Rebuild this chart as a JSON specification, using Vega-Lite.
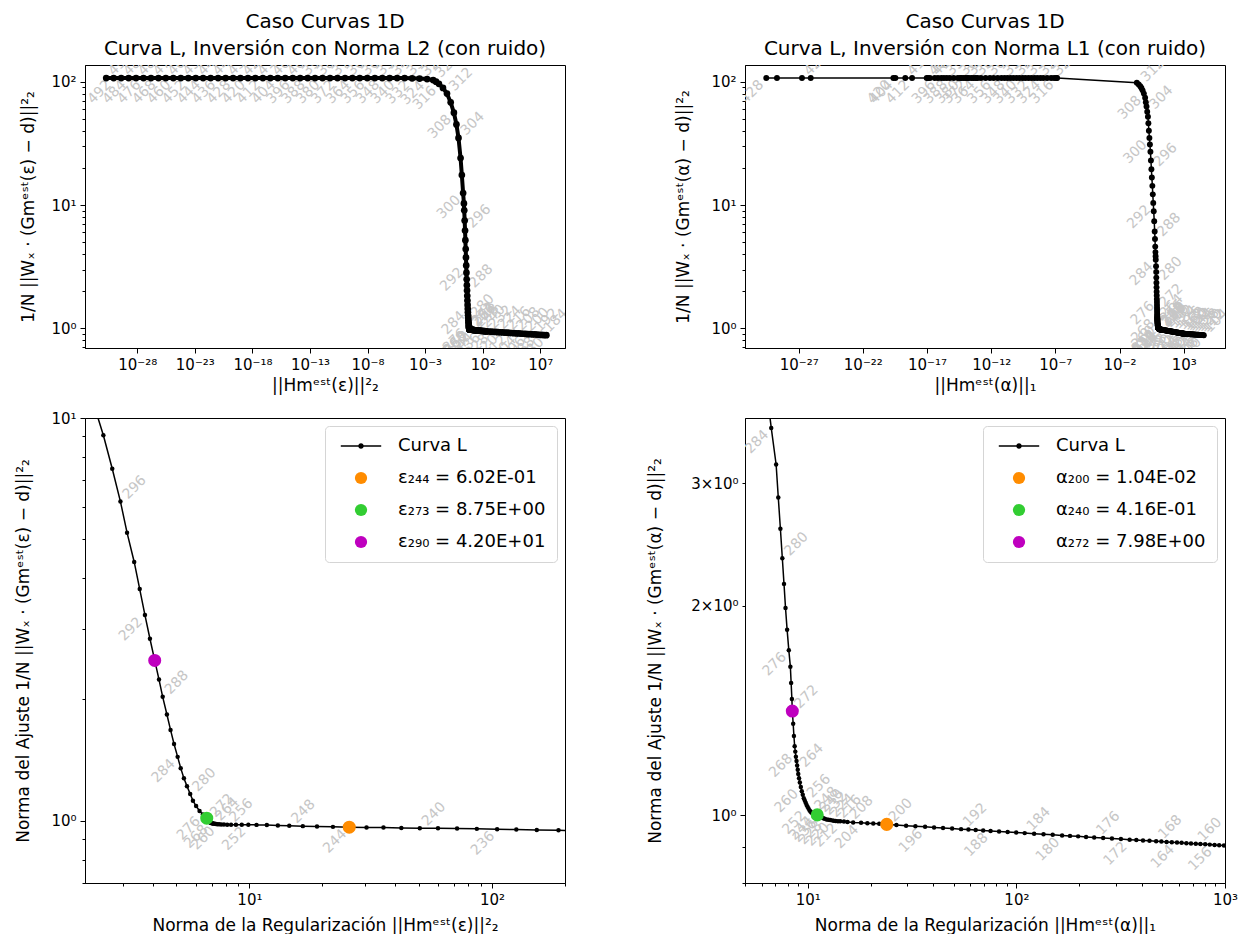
{
"$schema": "https://vega.github.io/schema/vega-lite/v6.json",
"background": "white",
"padding": {"left": 14, "top": 11, "right": 5, "bottom": 0},
"config": {
  "font": "DejaVu Sans",
  "view": {"stroke": "black", "strokeWidth": 1},
  "axis": {"domainColor": "black", "tickColor": "black", "labelColor": "black", "titleColor": "black", "labelFont": "DejaVu Sans", "titleFont": "DejaVu Sans", "labelFontSize": 15, "titleFontSize": 17, "titleFontWeight": "normal", "grid": false, "labelFlush": false, "labelOverlap": false, "tickWidth": 1, "domainWidth": 1, "labelPadding": 4},
  "title": {"font": "DejaVu Sans", "fontSize": 20, "fontWeight": "normal", "color": "black", "frame": "group", "offset": 6, "lineHeight": 27},
  "legend": {"orient": "top-right", "offset": 8, "padding": 11, "strokeColor": "#d5d5d5", "fillColor": "white", "cornerRadius": 4, "labelFont": "DejaVu Sans", "labelFontSize": 18, "labelColor": "black", "labelLimit": 300, "symbolSize": 150, "symbolStrokeWidth": 0, "symbolOpacity": 1, "symbolOffset": 16, "labelOffset": 28, "rowPadding": 14}
},
"datasets": {
  "l2": [
    {"i":496,"x":2.0e-31,"y":107},{"i":492,"x":8.9e-31,"y":107},{"i":488,"x":3.98e-30,"y":107},{"i":484,"x":1.78e-29,"y":107},{"i":480,"x":7.8e-29,"y":107},{"i":476,"x":3.47e-28,"y":107},{"i":472,"x":1.55e-27,"y":107},{"i":468,"x":6.9e-27,"y":107},{"i":464,"x":3.0e-26,"y":107},{"i":460,"x":1.35e-25,"y":107},{"i":456,"x":6.0e-25,"y":107},{"i":452,"x":2.7e-24,"y":107},{"i":448,"x":1.2e-23,"y":107},{"i":444,"x":5.25e-23,"y":107},{"i":440,"x":2.35e-22,"y":107},{"i":436,"x":1.05e-21,"y":107},{"i":432,"x":4.7e-21,"y":107},{"i":428,"x":2.1e-20,"y":107},{"i":424,"x":9.1e-20,"y":107},{"i":420,"x":4.1e-19,"y":107},{"i":416,"x":1.8e-18,"y":107},{"i":412,"x":8.1e-18,"y":107},{"i":408,"x":3.6e-17,"y":107},{"i":404,"x":1.6e-16,"y":107},{"i":400,"x":7.1e-16,"y":107},{"i":396,"x":3.2e-15,"y":107},{"i":392,"x":1.4e-14,"y":107},{"i":388,"x":6.3e-14,"y":107},{"i":384,"x":2.75e-13,"y":107},{"i":380,"x":1.23e-12,"y":107},{"i":376,"x":5.5e-12,"y":107},{"i":372,"x":2.45e-11,"y":107},{"i":368,"x":1.1e-10,"y":107},{"i":364,"x":4.8e-10,"y":107},{"i":360,"x":2.1e-9,"y":107},{"i":356,"x":9.5e-9,"y":107},{"i":352,"x":4.3e-8,"y":107},{"i":348,"x":1.9e-7,"y":107},{"i":344,"x":8.3e-7,"y":107},{"i":340,"x":3.7e-6,"y":107},{"i":336,"x":1.66e-5,"y":107},{"i":332,"x":7.4e-5,"y":106.5},{"i":328,"x":3.3e-4,"y":106},{"i":324,"x":1.48e-3,"y":105},
    {"i":320,"x":0.005,"y":103},{"i":318,"x":0.0089,"y":100},{"i":316,"x":0.0158,"y":96},{"i":314,"x":0.0355,"y":89},{"i":312,"x":0.0794,"y":80},{"i":310,"x":0.166,"y":68},{"i":308,"x":0.316,"y":56},{"i":306,"x":0.525,"y":45},{"i":304,"x":0.794,"y":35},{"i":302,"x":1.2,"y":24},{"i":301,"x":1.55,"y":17.5},{"i":300,"x":2.0,"y":12.5},{"i":299,"x":2.34,"y":10.3},
    {"i":298,"x":2.5,"y":9.06},{"i":297,"x":2.72,"y":7.48},{"i":296,"x":2.94,"y":6.2},{"i":295,"x":3.13,"y":5.19},{"i":294,"x":3.35,"y":4.39},{"i":293,"x":3.53,"y":3.76},{"i":292,"x":3.71,"y":3.24},{"i":291,"x":3.89,"y":2.83},{"i":290,"x":4.07,"y":2.5},{"i":289,"x":4.24,"y":2.24},{"i":288,"x":4.39,"y":2.03},{"i":287,"x":4.57,"y":1.835},{"i":286,"x":4.73,"y":1.68},{"i":285,"x":4.89,"y":1.55},{"i":284,"x":5.06,"y":1.44},{"i":283,"x":5.21,"y":1.35},{"i":282,"x":5.37,"y":1.275},{"i":281,"x":5.53,"y":1.218},{"i":280,"x":5.7,"y":1.164},{"i":279,"x":5.85,"y":1.121},{"i":278,"x":6.03,"y":1.087},{"i":277,"x":6.23,"y":1.057},{"i":276,"x":6.43,"y":1.036},{"i":275,"x":6.52,"y":1.027},{"i":274,"x":6.6,"y":1.02},{"i":273,"x":6.67,"y":1.014},
    {"i":272,"x":6.75,"y":1.004},{"i":271,"x":6.8,"y":0.998},{"i":270,"x":6.84,"y":0.994},{"i":269,"x":6.87,"y":0.991},{"i":268,"x":6.9,"y":0.989},{"i":267,"x":6.94,"y":0.987},{"i":266,"x":6.98,"y":0.986},{"i":265,"x":7.02,"y":0.985},{"i":264,"x":7.07,"y":0.984},{"i":263,"x":7.13,"y":0.983},{"i":262,"x":7.2,"y":0.982},{"i":261,"x":7.28,"y":0.981},{"i":260,"x":7.38,"y":0.98},{"i":259,"x":7.5,"y":0.979},{"i":258,"x":7.65,"y":0.978},{"i":257,"x":7.85,"y":0.978},{"i":256,"x":8.1,"y":0.977},{"i":255,"x":8.4,"y":0.977},{"i":254,"x":8.8,"y":0.977},{"i":253,"x":9.3,"y":0.977},{"i":252,"x":9.9,"y":0.977},{"i":251,"x":10.7,"y":0.976},{"i":250,"x":11.8,"y":0.975},{"i":249,"x":13.1,"y":0.973},{"i":248,"x":14.6,"y":0.971},{"i":247,"x":16.6,"y":0.969},{"i":246,"x":19.0,"y":0.967},{"i":245,"x":22.1,"y":0.965},{"i":244,"x":25.8,"y":0.963},
    {"i":243,"x":30.4,"y":0.961},{"i":242,"x":35.7,"y":0.961},{"i":241,"x":42.3,"y":0.959},{"i":240,"x":50.4,"y":0.957},{"i":239,"x":59.9,"y":0.957},{"i":238,"x":71.8,"y":0.956},{"i":237,"x":86.6,"y":0.954},{"i":236,"x":105,"y":0.952},{"i":235,"x":126,"y":0.95},{"i":234,"x":153,"y":0.948},{"i":233,"x":188,"y":0.946},
    {"i":232,"x":214,"y":0.945},{"i":230,"x":339,"y":0.943},{"i":228,"x":537,"y":0.94},{"i":226,"x":851,"y":0.937},{"i":224,"x":1349,"y":0.935},{"i":222,"x":2138,"y":0.932},{"i":220,"x":3388,"y":0.93},{"i":218,"x":5370,"y":0.927},{"i":216,"x":8511,"y":0.924},{"i":214,"x":13490,"y":0.922},{"i":212,"x":21380,"y":0.919},{"i":210,"x":33884,"y":0.917},{"i":208,"x":53703,"y":0.914},{"i":206,"x":85114,"y":0.912},{"i":204,"x":134896,"y":0.909},{"i":202,"x":213796,"y":0.907},{"i":200,"x":338844,"y":0.904},{"i":198,"x":537032,"y":0.902},{"i":196,"x":851138,"y":0.899},{"i":194,"x":1348963,"y":0.897},{"i":192,"x":2137962,"y":0.894},{"i":190,"x":3388442,"y":0.892},{"i":188,"x":5370318,"y":0.89},{"i":186,"x":8511380,"y":0.887},{"i":184,"x":13489629,"y":0.885},{"i":182,"x":21379621,"y":0.882},{"i":180,"x":33884416,"y":0.88}
  ],
  "l1": [
    {"i":428,"x":3.0e-30,"y":107},{"i":426,"x":2.04e-29,"y":107},{"i":424,"x":1.82e-27,"y":107},{"i":422,"x":8.7e-27,"y":107},{"i":420,"x":2.4e-20,"y":107},{"i":416,"x":2.04e-19,"y":107},{"i":412,"x":6.9e-19,"y":107},{"i":408,"x":9.5e-18,"y":107},{"i":404,"x":3.47e-20,"y":107},{"i":402,"x":1.2e-17,"y":107},{"i":400,"x":1.7e-17,"y":107},{"i":398,"x":4.0e-17,"y":107},{"i":396,"x":7.1e-17,"y":107},{"i":394,"x":1.3e-16,"y":107},{"i":392,"x":2.1e-16,"y":107},{"i":390,"x":3.5e-16,"y":107},{"i":388,"x":6.0e-16,"y":107},{"i":386,"x":1.2e-15,"y":107},{"i":384,"x":2.5e-15,"y":107},{"i":382,"x":3.8e-15,"y":107},{"i":380,"x":5.1e-15,"y":107},{"i":378,"x":7.5e-15,"y":107},{"i":376,"x":1.05e-14,"y":107},{"i":374,"x":1.4e-14,"y":107},{"i":372,"x":1.86e-14,"y":107},{"i":370,"x":3.0e-14,"y":107},{"i":368,"x":4.4e-14,"y":107},{"i":366,"x":6.5e-14,"y":107},{"i":364,"x":8.9e-14,"y":107},{"i":362,"x":1.6e-13,"y":107},{"i":360,"x":3.7e-13,"y":107},{"i":358,"x":8.0e-13,"y":107},{"i":356,"x":1.55e-12,"y":107},{"i":354,"x":3.2e-12,"y":107},{"i":352,"x":6.3e-12,"y":107},{"i":350,"x":1.1e-11,"y":107},{"i":348,"x":1.86e-11,"y":107},{"i":346,"x":3.2e-11,"y":107},{"i":344,"x":5.4e-11,"y":107},{"i":342,"x":9.5e-11,"y":107},{"i":340,"x":1.6e-10,"y":107},{"i":338,"x":2.8e-10,"y":107},{"i":336,"x":4.6e-10,"y":107},{"i":334,"x":8.0e-10,"y":107},{"i":332,"x":1.35e-9,"y":107},{"i":330,"x":2.3e-9,"y":107},{"i":328,"x":3.9e-9,"y":107},{"i":326,"x":6.8e-9,"y":107},{"i":324,"x":1.15e-8,"y":107},{"i":322,"x":2.3e-8,"y":107},{"i":320,"x":4.7e-8,"y":107},{"i":318,"x":8.0e-8,"y":107},{"i":316,"x":1.2e-7,"y":107},{"i":314,"x":1.38e-7,"y":107},
    {"i":313,"x":0.224,"y":98},{"i":312,"x":0.316,"y":95},{"i":311,"x":0.417,"y":92},{"i":310,"x":0.513,"y":89},{"i":309,"x":0.631,"y":85},{"i":308,"x":0.794,"y":80},{"i":307,"x":0.993,"y":74},{"i":306,"x":1.122,"y":68},{"i":305,"x":1.276,"y":63},{"i":304,"x":1.445,"y":57},{"i":303,"x":1.644,"y":52},{"i":302,"x":1.778,"y":46},{"i":301,"x":1.945,"y":40},{"i":300,"x":2.138,"y":35},{"i":299,"x":2.339,"y":31},{"i":298,"x":2.57,"y":27},{"i":297,"x":2.805,"y":23},{"i":296,"x":3.055,"y":19.5},{"i":295,"x":3.319,"y":16.7},{"i":294,"x":3.631,"y":14.3},{"i":293,"x":3.926,"y":12.2},{"i":292,"x":4.266,"y":10.4},{"i":291,"x":4.656,"y":8.9},{"i":290,"x":5.07,"y":7.4},{"i":289,"x":5.508,"y":6.1},{"i":288,"x":5.821,"y":5.3},{"i":287,"x":6.095,"y":4.6},{"i":286,"x":6.31,"y":4.15},{"i":285,"x":6.501,"y":3.85},{"i":284,"x":6.68,"y":3.6},
    {"i":283,"x":7.05,"y":3.19},{"i":282,"x":7.22,"y":2.86},{"i":281,"x":7.39,"y":2.58},{"i":280,"x":7.55,"y":2.34},{"i":279,"x":7.69,"y":2.15},{"i":278,"x":7.82,"y":1.985},{"i":277,"x":7.96,"y":1.847},{"i":276,"x":8.11,"y":1.727},{"i":275,"x":8.25,"y":1.635},{"i":274,"x":8.32,"y":1.55},{"i":273,"x":8.39,"y":1.47},{"i":272,"x":8.43,"y":1.412},
    {"i":271,"x":8.51,"y":1.354},{"i":270,"x":8.58,"y":1.3},{"i":269,"x":8.65,"y":1.257},{"i":268,"x":8.71,"y":1.235},{"i":267,"x":8.77,"y":1.214},{"i":266,"x":8.83,"y":1.197},{"i":265,"x":8.89,"y":1.18},{"i":264,"x":8.95,"y":1.163},{"i":263,"x":9.0,"y":1.147},{"i":262,"x":9.08,"y":1.131},{"i":261,"x":9.16,"y":1.115},{"i":260,"x":9.26,"y":1.099},{"i":259,"x":9.36,"y":1.083},{"i":258,"x":9.46,"y":1.071},{"i":257,"x":9.57,"y":1.059},{"i":256,"x":9.67,"y":1.051},{"i":255,"x":9.77,"y":1.043},{"i":254,"x":9.87,"y":1.035},{"i":253,"x":9.97,"y":1.029},{"i":252,"x":10.08,"y":1.023},{"i":251,"x":10.2,"y":1.017},{"i":250,"x":10.3,"y":1.013},{"i":249,"x":10.4,"y":1.01},{"i":248,"x":10.5,"y":1.008},{"i":247,"x":10.6,"y":1.007},{"i":246,"x":10.7,"y":1.006},{"i":245,"x":10.8,"y":1.005},{"i":244,"x":10.9,"y":1.004},{"i":243,"x":10.95,"y":1.003},{"i":242,"x":11.0,"y":1.003},{"i":241,"x":11.05,"y":1.002},{"i":240,"x":11.1,"y":1.002},
    {"i":238,"x":11.17,"y":0.998},{"i":236,"x":11.33,"y":0.996},{"i":234,"x":11.5,"y":0.994},{"i":232,"x":11.66,"y":0.993},{"i":230,"x":11.85,"y":0.991},{"i":228,"x":12.05,"y":0.989},{"i":226,"x":12.3,"y":0.987},{"i":224,"x":12.55,"y":0.986},{"i":222,"x":12.8,"y":0.985},{"i":220,"x":13.05,"y":0.984},{"i":218,"x":13.3,"y":0.983},{"i":216,"x":13.6,"y":0.982},{"i":214,"x":13.95,"y":0.981},{"i":212,"x":14.3,"y":0.981},{"i":210,"x":14.9,"y":0.98},{"i":208,"x":15.5,"y":0.979},{"i":206,"x":16.5,"y":0.977},{"i":204,"x":18.0,"y":0.976},{"i":203,"x":19.3,"y":0.975},{"i":202,"x":20.6,"y":0.974},{"i":201,"x":22.0,"y":0.973},{"i":200,"x":23.9,"y":0.971},
    {"i":199,"x":26.6,"y":0.9687},{"i":198,"x":29.6,"y":0.9669},{"i":197,"x":32.8,"y":0.9649},{"i":196,"x":36.5,"y":0.9632},{"i":195,"x":40.3,"y":0.9614},{"i":194,"x":44.5,"y":0.9596},{"i":193,"x":49.2,"y":0.9577},{"i":192,"x":54.3,"y":0.9559},{"i":191,"x":58.9,"y":0.9546},{"i":190,"x":63.8,"y":0.953},{"i":189,"x":69.3,"y":0.9517},{"i":188,"x":75.2,"y":0.9502},{"i":187,"x":82.6,"y":0.9484},{"i":186,"x":90.8,"y":0.9469},{"i":185,"x":99.8,"y":0.9452},{"i":184,"x":109.6,"y":0.9434},{"i":183,"x":121.6,"y":0.9417},{"i":182,"x":134.9,"y":0.94},{"i":181,"x":149.3,"y":0.938},{"i":180,"x":165.6,"y":0.9363},{"i":179,"x":180.7,"y":0.9348},{"i":178,"x":197.7,"y":0.9333},{"i":177,"x":215.8,"y":0.9316},{"i":176,"x":236.0,"y":0.93},{"i":175,"x":260.6,"y":0.9284},{"i":174,"x":287.1,"y":0.9266},{"i":173,"x":317.0,"y":0.9249},{"i":172,"x":349.1,"y":0.9232},{"i":171,"x":375.8,"y":0.922},{"i":170,"x":404.6,"y":0.9207},{"i":169,"x":434.5,"y":0.9196},{"i":168,"x":467.7,"y":0.9183},{"i":167,"x":495.5,"y":0.9173},{"i":166,"x":524.8,"y":0.9162},{"i":165,"x":555.9,"y":0.9153},{"i":164,"x":588.8,"y":0.9143},{"i":163,"x":619.4,"y":0.9135},{"i":162,"x":653.1,"y":0.9125},{"i":161,"x":687.1,"y":0.9116},{"i":160,"x":724.4,"y":0.9107},{"i":159,"x":762.1,"y":0.9099},{"i":158,"x":803.5,"y":0.909},{"i":157,"x":845.3,"y":0.9082},{"i":156,"x":891.3,"y":0.9073},{"i":155,"x":937.6,"y":0.9064},{"i":154,"x":988.5,"y":0.9056},{"i":153,"x":1040,"y":0.9047},
    {"i":152,"x":1112,"y":0.904},{"i":150,"x":1274,"y":0.903},{"i":148,"x":1459,"y":0.902},{"i":146,"x":1667,"y":0.901},{"i":144,"x":1910,"y":0.9},{"i":142,"x":2183,"y":0.899},{"i":140,"x":2500,"y":0.899},{"i":138,"x":2864,"y":0.898},{"i":136,"x":3273,"y":0.897},{"i":134,"x":3750,"y":0.896},{"i":132,"x":4285,"y":0.895},{"i":130,"x":4909,"y":0.894},{"i":128,"x":5623,"y":0.893},{"i":126,"x":6427,"y":0.892},{"i":124,"x":7362,"y":0.891},{"i":122,"x":8414,"y":0.89},{"i":120,"x":9638,"y":0.889},{"i":118,"x":11041,"y":0.888},{"i":116,"x":12618,"y":0.888},{"i":114,"x":14454,"y":0.887},{"i":112,"x":16520,"y":0.886},{"i":110,"x":18923,"y":0.885},{"i":108,"x":21627,"y":0.884},{"i":106,"x":24774,"y":0.883},{"i":104,"x":28379,"y":0.882},{"i":102,"x":32434,"y":0.881},{"i":100,"x":37154,"y":0.88}
  ],
  "s2": [
    {"lab": "ε₂₄₄ = 6.02E-01", "x": 25.8, "y": 0.963},
    {"lab": "ε₂₇₃ = 8.75E+00", "x": 6.67, "y": 1.014},
    {"lab": "ε₂₉₀ = 4.20E+01", "x": 4.07, "y": 2.5}
  ],
  "s1": [
    {"lab": "α₂₀₀ = 1.04E-02", "x": 23.9, "y": 0.971},
    {"lab": "α₂₄₀ = 4.16E-01", "x": 11.1, "y": 1.002},
    {"lab": "α₂₇₂ = 7.98E+00", "x": 8.43, "y": 1.412}
  ]
},
"columns": 2,
"bounds": "flush",
"align": "each",
"spacing": {"row": 70, "column": 180},
"resolve": {"scale": {"color": "independent", "shape": "independent"}},
"concat": [
  {
    "width": 480, "height": 283,
    "title": {"text": ["Caso Curvas 1D", "Curva L, Inversión con Norma L2 (con ruido)"]},
    "layer": [
      {"mark": {"type": "rule", "color": "#b0c4de", "strokeWidth": 1}, "encoding": {"y": {"datum": 1, "type": "quantitative"}}},
      {"mark": {"type": "rect", "fillOpacity": 0, "stroke": "#44dd44", "strokeWidth": 1}, "encoding": {"x": {"datum": 2.1, "type": "quantitative"}, "x2": {"datum": 200}, "y": {"datum": 0.7, "type": "quantitative"}, "y2": {"datum": 10}}},
      {"data": {"name": "l2"}, "transform": [{"filter": "datum.i % 8 == 4"}], "mark": {"type": "text", "angle": 315, "dx": -20, "align": "center", "baseline": "middle", "fontSize": 14, "font": "DejaVu Sans", "color": "#c6c6c6", "clip": true}, "encoding": {"x": {"field": "x", "type": "quantitative"}, "y": {"field": "y", "type": "quantitative"}, "text": {"field": "i", "type": "quantitative"}}},
      {"data": {"name": "l2"}, "transform": [{"filter": "datum.i % 8 == 0"}], "mark": {"type": "text", "angle": 315, "dx": 20, "align": "center", "baseline": "middle", "fontSize": 14, "font": "DejaVu Sans", "color": "#c6c6c6", "clip": true}, "encoding": {"x": {"field": "x", "type": "quantitative"}, "y": {"field": "y", "type": "quantitative"}, "text": {"field": "i", "type": "quantitative"}}},
      {"data": {"name": "l2"}, "mark": {"type": "line", "color": "black", "strokeWidth": 4, "clip": true}, "encoding": {
        "x": {"field": "x", "type": "quantitative", "scale": {"type": "log", "domain": [2.88e-33, 1.41e9], "nice": false}, "axis": {"title": "||Hmᵉˢᵗ(ε)||²₂", "values": [1e-28, 1e-23, 1e-18, 1e-13, 1e-8, 0.001, 100, 10000000], "labelExpr": "'10'+replace(replace(replace(replace(replace(replace(replace(replace(replace(replace(replace(''+round(log(datum.value)/LN10),regexp('-','g'),'⁻'),regexp('0','g'),'⁰'),regexp('1','g'),'¹'),regexp('2','g'),'²'),regexp('3','g'),'³'),regexp('4','g'),'⁴'),regexp('5','g'),'⁵'),regexp('6','g'),'⁶'),regexp('7','g'),'⁷'),regexp('8','g'),'⁸'),regexp('9','g'),'⁹')", "tickSize": 5, "titlePadding": 5}},
        "y": {"field": "y", "type": "quantitative", "scale": {"type": "log", "domain": [0.693, 136.5], "nice": false}, "axis": {"title": "1/N ||Wₓ · (Gmᵉˢᵗ(ε) − d)||²₂", "values": [0.7, 0.8, 0.9, 1, 2, 3, 4, 5, 6, 7, 8, 9, 10, 20, 30, 40, 50, 60, 70, 80, 90, 100], "labelExpr": "abs(log(datum.value)/LN10-round(log(datum.value)/LN10))<0.001 ? '10'+replace(replace(replace(replace(replace(replace(replace(replace(replace(replace(replace(''+round(log(datum.value)/LN10),regexp('-','g'),'⁻'),regexp('0','g'),'⁰'),regexp('1','g'),'¹'),regexp('2','g'),'²'),regexp('3','g'),'³'),regexp('4','g'),'⁴'),regexp('5','g'),'⁵'),regexp('6','g'),'⁶'),regexp('7','g'),'⁷'),regexp('8','g'),'⁸'),regexp('9','g'),'⁹') : ''", "tickSize": {"condition": {"test": "abs(log(datum.value)/LN10-round(log(datum.value)/LN10))<0.001", "value": 5}, "value": 3}, "titlePadding": 13}},
        "order": {"field": "i", "type": "quantitative"}}},
      {"data": {"name": "l2"}, "mark": {"type": "circle", "color": "black", "size": 45, "opacity": 1, "clip": true}, "encoding": {"x": {"field": "x", "type": "quantitative"}, "y": {"field": "y", "type": "quantitative"}}}
    ]
  },
  {
    "width": 480, "height": 283,
    "title": {"text": ["Caso Curvas 1D", "Curva L, Inversión con Norma L1 (con ruido)"]},
    "layer": [
      {"mark": {"type": "rule", "color": "#b0c4de", "strokeWidth": 1}, "encoding": {"y": {"datum": 1, "type": "quantitative"}}},
      {"mark": {"type": "rect", "fillOpacity": 0, "stroke": "#44dd44", "strokeWidth": 1}, "encoding": {"x": {"datum": 5, "type": "quantitative"}, "x2": {"datum": 1000}, "y": {"datum": 0.8, "type": "quantitative"}, "y2": {"datum": 3.72}}},
      {"data": {"name": "l1"}, "transform": [{"filter": "datum.i % 8 == 4"}], "mark": {"type": "text", "angle": 315, "dx": -20, "align": "center", "baseline": "middle", "fontSize": 14, "font": "DejaVu Sans", "color": "#c6c6c6", "clip": true}, "encoding": {"x": {"field": "x", "type": "quantitative"}, "y": {"field": "y", "type": "quantitative"}, "text": {"field": "i", "type": "quantitative"}}},
      {"data": {"name": "l1"}, "transform": [{"filter": "datum.i % 8 == 0"}], "mark": {"type": "text", "angle": 315, "dx": 20, "align": "center", "baseline": "middle", "fontSize": 14, "font": "DejaVu Sans", "color": "#c6c6c6", "clip": true}, "encoding": {"x": {"field": "x", "type": "quantitative"}, "y": {"field": "y", "type": "quantitative"}, "text": {"field": "i", "type": "quantitative"}}},
      {"data": {"name": "l1"}, "mark": {"type": "line", "color": "black", "strokeWidth": 1.5, "clip": true}, "encoding": {
        "x": {"field": "x", "type": "quantitative", "scale": {"type": "log", "domain": [6.6e-32, 1.66e6], "nice": false}, "axis": {"title": "||Hmᵉˢᵗ(α)||₁", "values": [1e-27, 1e-22, 1e-17, 1e-12, 1e-7, 0.01, 1000], "labelExpr": "'10'+replace(replace(replace(replace(replace(replace(replace(replace(replace(replace(replace(''+round(log(datum.value)/LN10),regexp('-','g'),'⁻'),regexp('0','g'),'⁰'),regexp('1','g'),'¹'),regexp('2','g'),'²'),regexp('3','g'),'³'),regexp('4','g'),'⁴'),regexp('5','g'),'⁵'),regexp('6','g'),'⁶'),regexp('7','g'),'⁷'),regexp('8','g'),'⁸'),regexp('9','g'),'⁹')", "tickSize": 5, "titlePadding": 5}},
        "y": {"field": "y", "type": "quantitative", "scale": {"type": "log", "domain": [0.693, 136.5], "nice": false}, "axis": {"title": "1/N ||Wₓ · (Gmᵉˢᵗ(α) − d)||²₂", "values": [0.7, 0.8, 0.9, 1, 2, 3, 4, 5, 6, 7, 8, 9, 10, 20, 30, 40, 50, 60, 70, 80, 90, 100], "labelExpr": "abs(log(datum.value)/LN10-round(log(datum.value)/LN10))<0.001 ? '10'+replace(replace(replace(replace(replace(replace(replace(replace(replace(replace(replace(''+round(log(datum.value)/LN10),regexp('-','g'),'⁻'),regexp('0','g'),'⁰'),regexp('1','g'),'¹'),regexp('2','g'),'²'),regexp('3','g'),'³'),regexp('4','g'),'⁴'),regexp('5','g'),'⁵'),regexp('6','g'),'⁶'),regexp('7','g'),'⁷'),regexp('8','g'),'⁸'),regexp('9','g'),'⁹') : ''", "tickSize": {"condition": {"test": "abs(log(datum.value)/LN10-round(log(datum.value)/LN10))<0.001", "value": 5}, "value": 3}, "titlePadding": 18}},
        "order": {"field": "i", "type": "quantitative"}}},
      {"data": {"name": "l1"}, "mark": {"type": "circle", "color": "black", "size": 35, "opacity": 1, "clip": true}, "encoding": {"x": {"field": "x", "type": "quantitative"}, "y": {"field": "y", "type": "quantitative"}}}
    ]
  },
  {
    "width": 480, "height": 465,
    "layer": [
      {"mark": {"type": "rule", "color": "#b0c4de", "strokeWidth": 1}, "encoding": {"y": {"datum": 1, "type": "quantitative"}}},
      {"data": {"name": "l2"}, "transform": [{"filter": "datum.i % 8 == 4"}], "mark": {"type": "text", "angle": 315, "dx": -20, "align": "center", "baseline": "middle", "fontSize": 14, "font": "DejaVu Sans", "color": "#c6c6c6", "clip": true}, "encoding": {"x": {"field": "x", "type": "quantitative"}, "y": {"field": "y", "type": "quantitative"}, "text": {"field": "i", "type": "quantitative"}}},
      {"data": {"name": "l2"}, "transform": [{"filter": "datum.i % 8 == 0"}], "mark": {"type": "text", "angle": 315, "dx": 20, "align": "center", "baseline": "middle", "fontSize": 14, "font": "DejaVu Sans", "color": "#c6c6c6", "clip": true}, "encoding": {"x": {"field": "x", "type": "quantitative"}, "y": {"field": "y", "type": "quantitative"}, "text": {"field": "i", "type": "quantitative"}}},
      {"data": {"name": "l2"}, "mark": {"type": "line", "color": "black", "strokeWidth": 1.5, "clip": true}, "encoding": {
        "x": {"field": "x", "type": "quantitative", "scale": {"type": "log", "domain": [2.1, 200], "nice": false}, "axis": {"title": "Norma de la Regularización  ||Hmᵉˢᵗ(ε)||²₂", "values": [3, 4, 5, 6, 7, 8, 9, 10, 20, 30, 40, 50, 60, 70, 80, 90, 100, 200], "labelExpr": "abs(log(datum.value)/LN10-round(log(datum.value)/LN10))<0.001 ? '10'+replace(replace(replace(replace(replace(replace(replace(replace(replace(replace(replace(''+round(log(datum.value)/LN10),regexp('-','g'),'⁻'),regexp('0','g'),'⁰'),regexp('1','g'),'¹'),regexp('2','g'),'²'),regexp('3','g'),'³'),regexp('4','g'),'⁴'),regexp('5','g'),'⁵'),regexp('6','g'),'⁶'),regexp('7','g'),'⁷'),regexp('8','g'),'⁸'),regexp('9','g'),'⁹') : ''", "tickSize": {"condition": {"test": "abs(log(datum.value)/LN10-round(log(datum.value)/LN10))<0.001", "value": 5}, "value": 3}, "titlePadding": 10}},
        "y": {"field": "y", "type": "quantitative", "scale": {"type": "log", "domain": [0.7, 10], "nice": false}, "axis": {"title": "Norma del Ajuste  1/N ||Wₓ · (Gmᵉˢᵗ(ε) − d)||²₂", "values": [0.7, 0.8, 0.9, 1, 2, 3, 4, 5, 6, 7, 8, 9, 10], "labelExpr": "abs(log(datum.value)/LN10-round(log(datum.value)/LN10))<0.001 ? '10'+replace(replace(replace(replace(replace(replace(replace(replace(replace(replace(replace(''+round(log(datum.value)/LN10),regexp('-','g'),'⁻'),regexp('0','g'),'⁰'),regexp('1','g'),'¹'),regexp('2','g'),'²'),regexp('3','g'),'³'),regexp('4','g'),'⁴'),regexp('5','g'),'⁵'),regexp('6','g'),'⁶'),regexp('7','g'),'⁷'),regexp('8','g'),'⁸'),regexp('9','g'),'⁹') : ''", "tickSize": {"condition": {"test": "abs(log(datum.value)/LN10-round(log(datum.value)/LN10))<0.001", "value": 5}, "value": 3}, "titlePadding": 18}},
        "order": {"field": "i", "type": "quantitative"}}},
      {"data": {"name": "l2"}, "mark": {"type": "circle", "color": "black", "size": 20, "opacity": 1, "clip": true}, "encoding": {"x": {"field": "x", "type": "quantitative"}, "y": {"field": "y", "type": "quantitative"}}},
      {"data": {"name": "s2"}, "mark": {"type": "point", "filled": true, "opacity": 1, "size": 170, "clip": true}, "encoding": {
        "x": {"field": "x", "type": "quantitative"}, "y": {"field": "y", "type": "quantitative"},
        "color": {"field": "lab", "type": "nominal", "scale": {"domain": ["Curva L", "ε₂₄₄ = 6.02E-01", "ε₂₇₃ = 8.75E+00", "ε₂₉₀ = 4.20E+01"], "range": ["black", "#ff8c00", "#32cd32", "#bf00bf"]}, "legend": {"title": null}},
        "shape": {"field": "lab", "type": "nominal", "scale": {"domain": ["Curva L", "ε₂₄₄ = 6.02E-01", "ε₂₇₃ = 8.75E+00", "ε₂₉₀ = 4.20E+01"], "range": ["M-3.3,-0.12L3.3,-0.12L3.3,0.12L-3.3,0.12Z M0.45,0A0.45,0.45,0,1,1,-0.45,0A0.45,0.45,0,1,1,0.45,0Z", "circle", "circle", "circle"]}, "legend": {"title": null}}}}
    ]
  },
  {
    "width": 480, "height": 465,
    "layer": [
      {"mark": {"type": "rule", "color": "#b0c4de", "strokeWidth": 1}, "encoding": {"y": {"datum": 1, "type": "quantitative"}}},
      {"data": {"name": "l1"}, "transform": [{"filter": "datum.i % 8 == 4"}], "mark": {"type": "text", "angle": 315, "dx": -20, "align": "center", "baseline": "middle", "fontSize": 14, "font": "DejaVu Sans", "color": "#c6c6c6", "clip": true}, "encoding": {"x": {"field": "x", "type": "quantitative"}, "y": {"field": "y", "type": "quantitative"}, "text": {"field": "i", "type": "quantitative"}}},
      {"data": {"name": "l1"}, "transform": [{"filter": "datum.i % 8 == 0"}], "mark": {"type": "text", "angle": 315, "dx": 20, "align": "center", "baseline": "middle", "fontSize": 14, "font": "DejaVu Sans", "color": "#c6c6c6", "clip": true}, "encoding": {"x": {"field": "x", "type": "quantitative"}, "y": {"field": "y", "type": "quantitative"}, "text": {"field": "i", "type": "quantitative"}}},
      {"data": {"name": "l1"}, "mark": {"type": "line", "color": "black", "strokeWidth": 1.5, "clip": true}, "encoding": {
        "x": {"field": "x", "type": "quantitative", "scale": {"type": "log", "domain": [5, 1000], "nice": false}, "axis": {"title": "Norma de la Regularización  ||Hmᵉˢᵗ(α)||₁", "values": [5, 6, 7, 8, 9, 10, 20, 30, 40, 50, 60, 70, 80, 90, 100, 200, 300, 400, 500, 600, 700, 800, 900, 1000], "labelExpr": "abs(log(datum.value)/LN10-round(log(datum.value)/LN10))<0.001 ? '10'+replace(replace(replace(replace(replace(replace(replace(replace(replace(replace(replace(''+round(log(datum.value)/LN10),regexp('-','g'),'⁻'),regexp('0','g'),'⁰'),regexp('1','g'),'¹'),regexp('2','g'),'²'),regexp('3','g'),'³'),regexp('4','g'),'⁴'),regexp('5','g'),'⁵'),regexp('6','g'),'⁶'),regexp('7','g'),'⁷'),regexp('8','g'),'⁸'),regexp('9','g'),'⁹') : ''", "tickSize": {"condition": {"test": "abs(log(datum.value)/LN10-round(log(datum.value)/LN10))<0.001", "value": 5}, "value": 3}, "titlePadding": 10}},
        "y": {"field": "y", "type": "quantitative", "scale": {"type": "log", "domain": [0.8, 3.72], "nice": false}, "axis": {"title": "Norma del Ajuste  1/N ||Wₓ · (Gmᵉˢᵗ(α) − d)||²₂", "values": [0.8, 0.9, 1, 2, 3], "labelExpr": "datum.value == 1 ? '10⁰' : datum.value == 2 ? '2×10⁰' : datum.value == 3 ? '3×10⁰' : ''", "tickSize": {"condition": {"test": "datum.value == 1", "value": 5}, "value": 3}, "titlePadding": 26}},
        "order": {"field": "i", "type": "quantitative"}}},
      {"data": {"name": "l1"}, "mark": {"type": "circle", "color": "black", "size": 20, "opacity": 1, "clip": true}, "encoding": {"x": {"field": "x", "type": "quantitative"}, "y": {"field": "y", "type": "quantitative"}}},
      {"data": {"name": "s1"}, "mark": {"type": "point", "filled": true, "opacity": 1, "size": 170, "clip": true}, "encoding": {
        "x": {"field": "x", "type": "quantitative"}, "y": {"field": "y", "type": "quantitative"},
        "color": {"field": "lab", "type": "nominal", "scale": {"domain": ["Curva L", "α₂₀₀ = 1.04E-02", "α₂₄₀ = 4.16E-01", "α₂₇₂ = 7.98E+00"], "range": ["black", "#ff8c00", "#32cd32", "#bf00bf"]}, "legend": {"title": null}},
        "shape": {"field": "lab", "type": "nominal", "scale": {"domain": ["Curva L", "α₂₀₀ = 1.04E-02", "α₂₄₀ = 4.16E-01", "α₂₇₂ = 7.98E+00"], "range": ["M-3.3,-0.12L3.3,-0.12L3.3,0.12L-3.3,0.12Z M0.45,0A0.45,0.45,0,1,1,-0.45,0A0.45,0.45,0,1,1,0.45,0Z", "circle", "circle", "circle"]}, "legend": {"title": null}}}}
    ]
  }
]
}
